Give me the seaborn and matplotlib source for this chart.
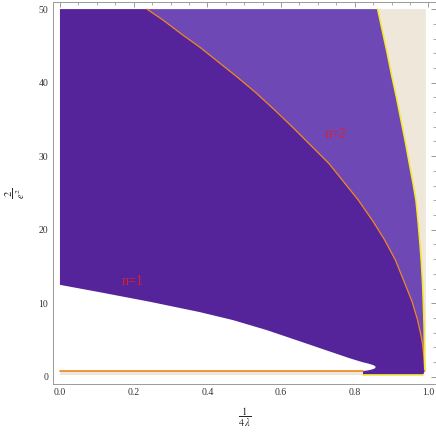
import matplotlib
matplotlib.use("Agg")
import matplotlib.pyplot as plt
import seaborn as sns

# boundary between n=1 and n=2 (orange curve)
orange_x = [0.236, 0.28, 0.33, 0.38, 0.43, 0.48, 0.53, 0.58, 0.63, 0.68, 0.73, 0.77,
            0.81, 0.85, 0.88, 0.91, 0.935, 0.955, 0.97, 0.978, 0.984, 0.988, 0.99]
orange_y = [50.0, 48.5, 46.6, 44.8, 42.8, 40.8, 38.7, 36.4, 34.0, 31.5, 29.0, 26.5,
            24.0, 21.1, 18.7, 15.9, 12.8, 10.3, 7.8, 6.0, 4.5, 2.5, 0.8]

# right edge of the n=2 region (yellow curve)
yellow_x = [0.862, 0.875, 0.888, 0.90, 0.913, 0.925, 0.937, 0.948, 0.958, 0.966,
            0.972, 0.977, 0.981, 0.984, 0.986, 0.988, 0.99]
yellow_y = [50.0, 47.0, 44.0, 41.0, 38.0, 35.0, 32.0, 29.0, 26.3, 24.0,
            21.0, 18.0, 15.3, 12.7, 10.0, 7.0, 1.0]

# lower edge of the n=1 region (the white pocket)
lower_x = [0.0, 0.108, 0.244, 0.379, 0.47, 0.561, 0.65, 0.732, 0.786, 0.82,
           0.84, 0.852, 0.857, 0.855, 0.846, 0.834, 0.822]
lower_y = [12.5, 11.5, 10.2, 8.8, 7.7, 6.35, 4.84, 3.44, 2.52, 2.0,
           1.75, 1.55, 1.35, 1.15, 0.98, 0.85, 0.78]

# thin band along the bottom
band_x = [0.0, 0.822]
band_top = 0.78
band_bottom = 0.2

# bottom of the lobe near x -> 1
lobe_x = [0.822, 0.986]
lobe_y = 0.3

edge_x = 0.993
y_top = 50.0

labels = ["n=1", "n=2"]
label_x = [0.198, 0.748]
label_y = [12.9, 33.0]

dark = "#55239A"
light = "#6E49B6"
beige = "#EFE7DA"
orange = "#EE8420"
yellow = "#F6E62C"

sns.set_style("white")
plt.rcParams["font.family"] = ["Liberation Serif", "DejaVu Serif"]
plt.rcParams["mathtext.fontset"] = "stix"

fig = plt.figure(figsize=(4.36, 4.36), dpi=100)
ax = fig.add_axes([0.1206, 0.119, 0.879, 0.877])

# n=1 region
dx = [0.0] + orange_x + [lobe_x[1], lobe_x[0]] + lower_x[::-1]
dy = [y_top] + orange_y + [lobe_y, lobe_y] + lower_y[::-1]
ax.fill(dx, dy, color=dark, lw=0)

# n=2 region
ax.fill(orange_x + yellow_x[::-1], orange_y + yellow_y[::-1], color=light, lw=0)

# beige strip on the right
ax.fill(yellow_x + [edge_x, edge_x], yellow_y + [0.5, y_top], color=beige, lw=0)

# bottom band
ax.fill_between(band_x, band_bottom, band_top, color=beige, lw=0)

sns.lineplot(x=orange_x, y=orange_y, sort=False, estimator=None, color=orange, lw=0.9, ax=ax)
sns.lineplot(x=yellow_x, y=yellow_y, sort=False, estimator=None, color=yellow, lw=1.1, ax=ax)
sns.lineplot(x=band_x, y=[band_top, band_top], color=orange, lw=1.2, ax=ax)
sns.lineplot(x=lobe_x, y=[lobe_y, lobe_y], color=yellow, lw=1.1, ax=ax)
sns.lineplot(x=[0.988, 0.988], y=[lobe_y, 10.0], color=yellow, lw=1.0, ax=ax)

for t, x, y in zip(labels, label_x, label_y):
    ax.text(x, y, t, color="#D8202C", fontsize=10, ha="center", va="center")

ax.set_xlim(-0.02, 1.02)
ax.set_ylim(-1, 51)
ax.set_xticks([0.0, 0.2, 0.4, 0.6, 0.8, 1.0])
ax.set_xticklabels(["0.0", "0.2", "0.4", "0.6", "0.8", "1.0"])
ax.set_yticks([0, 10, 20, 30, 40, 50])
ax.set_xticks([i * 0.05 for i in range(21)], minor=True)
ax.set_yticks(list(range(0, 51, 2)), minor=True)
ax.tick_params(which="both", direction="in", top=True, right=True, color="#888888",
               labelsize=7, labelcolor="#333333", pad=3)
ax.tick_params(which="major", length=3.5, width=0.6)
ax.tick_params(which="minor", length=2, width=0.5)
for s in ax.spines.values():
    s.set_color("#999999")
    s.set_linewidth(0.7)

ax.set_xlabel(r"$\dfrac{1}{4\,\lambda}$", fontsize=7.5, labelpad=6)
ax.set_ylabel(r"$\dfrac{2}{e^2}$", fontsize=7.5, labelpad=8)

fig.savefig("out.png", dpi=100)
